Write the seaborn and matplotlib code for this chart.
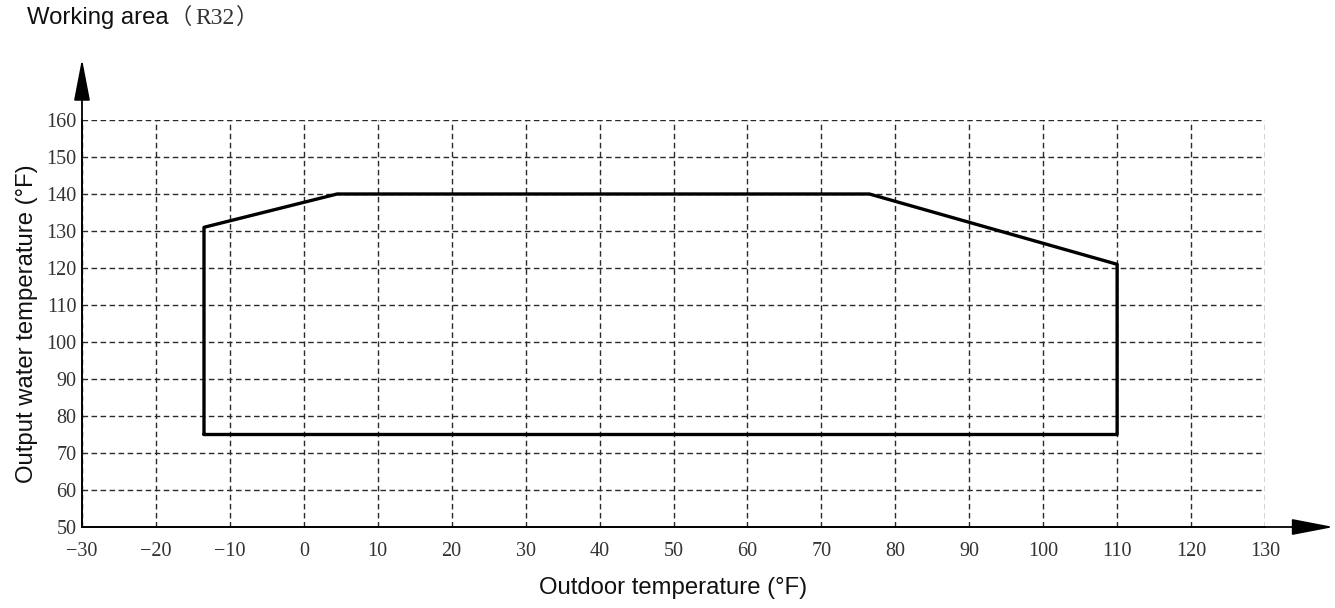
import pandas as pd
import seaborn as sns
import matplotlib.pyplot as plt

# boundary of the working area (closed polygon)
outdoor_f = [-13.5, -13.5, 4.5, 76.5, 110, 110, -13.5]
water_f = [75, 131, 140, 140, 121, 75, 75]
x_ticks = list(range(-30, 131, 10))
y_ticks = list(range(50, 161, 10))

df = pd.DataFrame({'outdoor': outdoor_f, 'water': water_f})

sns.set_style('white')
plt.rcParams['font.family'] = ['Liberation Sans', 'DejaVu Sans']

fig = plt.figure(figsize=(13.35, 6.08), dpi=100)
ax = fig.add_axes([82 / 1335, 1 - 527 / 608, (1265 - 82) / 1335, (527 - 120) / 608])

sns.lineplot(data=df, x='outdoor', y='water', sort=False, estimator=None,
             color='black', linewidth=2.4, ax=ax, zorder=3)

ax.set_xlim(-30, 130)
ax.set_ylim(50, 160)
ax.set_xticks(x_ticks)
ax.set_yticks(y_ticks)
ax.set_xticklabels(['\u2212%d' % -t if t < 0 else str(t) for t in x_ticks])
for lab in ax.get_xticklabels() + ax.get_yticklabels():
    lab.set_fontfamily('Liberation Serif')
    lab.set_fontsize(14.5)
    lab.set_color('#333333')
ax.tick_params(axis='x', length=0, pad=11)
ax.tick_params(axis='y', length=0, pad=4)

ax.grid(True, color='#2a2a2a', linestyle=(0, (4, 2.5)), linewidth=1.0)
ax.set_axisbelow(True)

for s in ['top', 'right']:
    ax.spines[s].set_visible(False)
for s in ['left', 'bottom']:
    ax.spines[s].set_color('#222222')
    ax.spines[s].set_linewidth(1.3)

# axis arrows
arrow = dict(arrowstyle='-|>,head_length=2.6,head_width=0.5', color='black', lw=1.3,
             shrinkA=0, shrinkB=0)
ax.annotate('', xy=(0, 1.15), xytext=(0, 0), xycoords='axes fraction',
            textcoords='axes fraction', arrowprops=arrow, annotation_clip=False)
ax.annotate('', xy=(1.058, 0), xytext=(0, 0), xycoords='axes fraction',
            textcoords='axes fraction', arrowprops=arrow, annotation_clip=False)

ax.set_xlabel('Outdoor temperature (°F)', fontsize=17.2, color='#111111', labelpad=11)
ax.set_ylabel('Output water temperature (°F)', fontsize=17.2, color='#111111', labelpad=6)

# title: sans text, full-width brackets, serif R32
t1 = fig.text(27 / 1335, 1 - 18 / 608, 'Working area', fontsize=17.2,
              family='Liberation Sans', va='center', ha='left', color='#111111')
cjk = ['Noto Sans CJK SC', 'DejaVu Sans']
t2 = ax.annotate('（', xy=(1, 0), xycoords=t1, xytext=(0.5, 0), textcoords='offset points',
                 va='bottom', ha='left', fontsize=16, family=cjk, color='#333333',
                 annotation_clip=False)
t3 = ax.annotate('R32', xy=(1, 0), xycoords=t2, xytext=(3, 0), textcoords='offset points',
                 va='bottom', ha='left', fontsize=17, family='Liberation Serif',
                 color='#333333', annotation_clip=False)
ax.annotate('）', xy=(1, 0), xycoords=t3, xytext=(1, 0), textcoords='offset points',
            va='bottom', ha='left', fontsize=16, family=cjk, color='#333333',
            annotation_clip=False)

fig.savefig('out.png', dpi=100)
